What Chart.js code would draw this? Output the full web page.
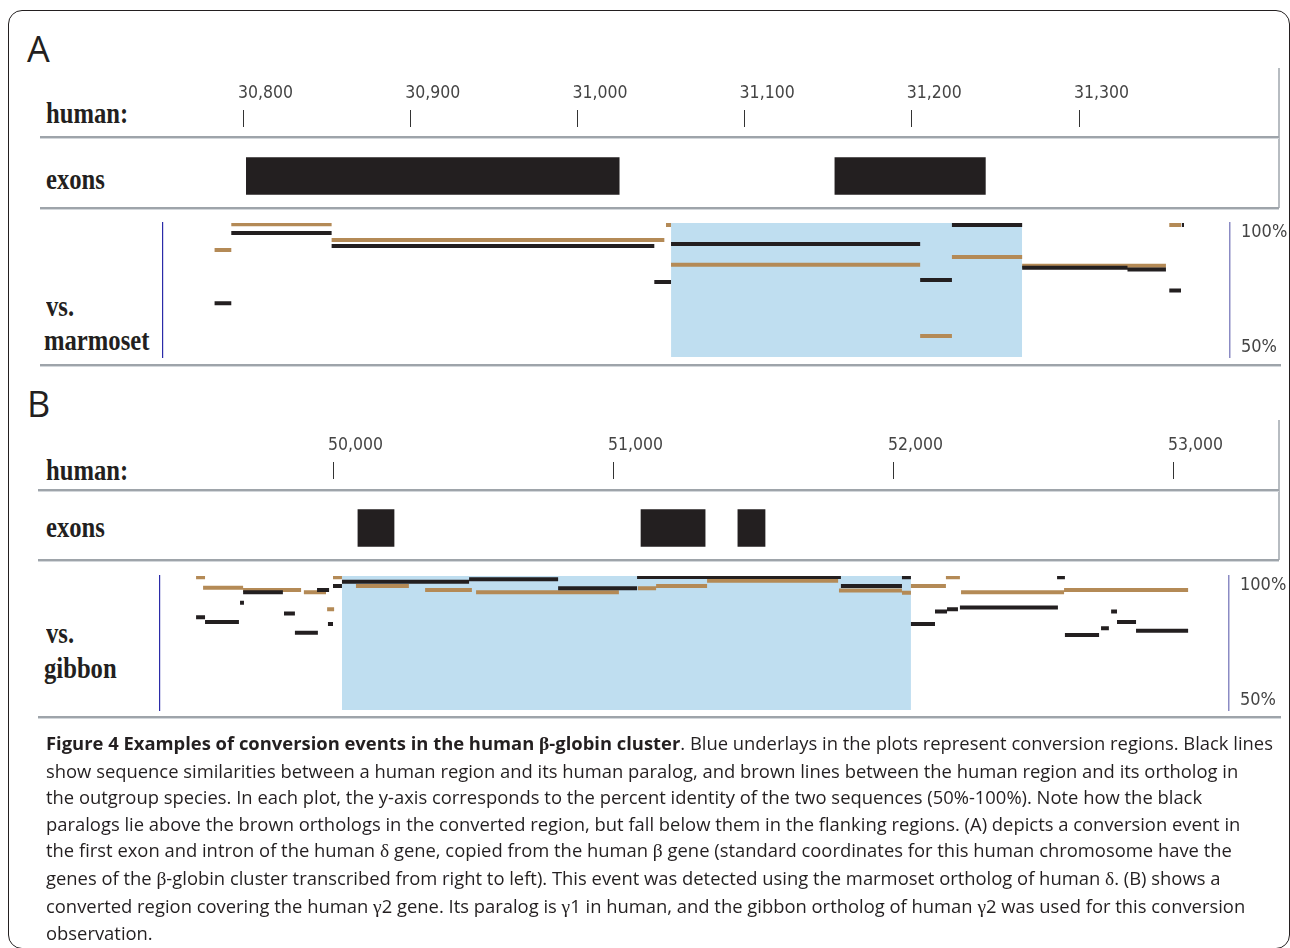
<!DOCTYPE html>
<html>
<head>
<meta charset="utf-8">
<script src="https://cdn.jsdelivr.net/npm/chart.js@4.4.1/dist/chart.umd.min.js"></script>
<style>
  body { margin: 0; width: 1290px; height: 948px; background: #fff; position: relative; overflow: hidden; }
  .frame { position: absolute; left: 8px; top: 10px; width: 1282px; height: 939px; border: 1.5px solid #231f20; border-radius: 14px; box-sizing: border-box; }
  .panel { position: absolute; left: 27px; font: 36px 'Open Sans', sans-serif; line-height: 36px; color: #231f20; }
  .lbl { position: absolute; left: 46px; font: bold 29px 'Liberation Serif', serif; line-height: 29px; color: #231f20; transform: scaleX(0.85); transform-origin: left top; white-space: nowrap; }
  .sep { position: absolute; height: 1px; background: #d3d7db; border-top: 2px solid #9ea4aa; }
  .edge { position: absolute; width: 2px; background: #b7bcc1; }
  canvas { position: absolute; }
  .caption { position: absolute; left: 46px; top: 730px; font: 18.4px 'Open Sans', sans-serif; line-height: 26.6px; color: #231f20; white-space: nowrap; }
  .gk { font-family: 'Liberation Serif', serif; font-size: 19.5px; }
</style>
</head>
<body>
<div class="frame"></div>

<div class="panel" style="top:31px">A</div>
<div class="lbl" style="top:99px">human:</div>
<div class="lbl" style="top:165px">exons</div>
<div class="lbl" style="top:292px">vs.</div>
<div class="lbl" style="top:326px;left:44px">marmoset</div>
<div class="edge" style="left:1278px;top:68px;height:140px"></div>

<div class="panel" style="top:386px">B</div>
<div class="lbl" style="top:456px">human:</div>
<div class="lbl" style="top:513px">exons</div>
<div class="lbl" style="top:619px">vs.</div>
<div class="lbl" style="top:654px;left:44px">gibbon</div>
<div class="edge" style="left:1278px;top:420px;height:140px"></div>

<canvas id="rulerA" width="1240" height="148" style="left:40px;top:60px"></canvas>
<canvas id="simA" width="1250" height="182" style="left:40px;top:199px"></canvas>
<canvas id="rulerB" width="1240" height="148" style="left:40px;top:412px"></canvas>
<canvas id="simB" width="1250" height="182" style="left:40px;top:552px"></canvas>

<div class="sep" style="left:40px;top:136px;width:1239px"></div>
<div class="sep" style="left:40px;top:207px;width:1239px"></div>
<div class="sep" style="left:40px;top:364px;width:1241px"></div>
<div class="sep" style="left:38px;top:489px;width:1241px"></div>
<div class="sep" style="left:38px;top:559px;width:1241px"></div>
<div class="sep" style="left:38px;top:716px;width:1243px"></div>

<div class="caption"><b>Figure 4 Examples of conversion events in the human <span class="gk">β</span>-globin cluster</b>. Blue underlays in the plots represent conversion regions. Black lines<br>show sequence similarities between a human region and its human paralog, and brown lines between the human region and its ortholog in<br>the outgroup species. In each plot, the y-axis corresponds to the percent identity of the two sequences (50%-100%). Note how the black<br>paralogs lie above the brown orthologs in the converted region, but fall below them in the flanking regions. (A) depicts a conversion event in<br>the first exon and intron of the human <span class="gk">δ</span> gene, copied from the human <span class="gk">β</span> gene (standard coordinates for this human chromosome have the<br>genes of the <span class="gk">β</span>-globin cluster transcribed from right to left). This event was detected using the marmoset ortholog of human <span class="gk">δ</span>. (B) shows a<br>converted region covering the human <span class="gk">γ</span>2 gene. Its paralog is <span class="gk">γ</span>1 in human, and the gibbon ortholog of human <span class="gk">γ</span>2 was used for this conversion<br>observation.</div>

<script>
// (A) human vs. marmoset: position on human sequence, [start, end, % identity]
const rulerTicksA = [30800, 30900, 31000, 31100, 31200, 31300];
const exonsA = [[30802, 31025], [31154, 31244]];
const conversionA = [31056, 31266];
const paralogA = [
  [30783, 30793, 69.8], [30793, 30853, 96.6], [30853, 31046, 91.6], [31046, 31056, 77.9],
  [31056, 31205, 92.4], [31205, 31224, 78.6], [31224, 31266, 99.6], [31266, 31329, 83.3],
  [31329, 31352, 82.6], [31354, 31361, 74.6], [31361.5, 31362.8, 99.6]
];
const orthologA = [
  [30783, 30793, 90.1], [30793, 30853, 99.9], [30853, 31052, 93.9], [31053, 31056, 99.6],
  [31056, 31205, 84.4], [31205, 31224, 57.3], [31224, 31266, 87.4], [31266, 31352, 84.1],
  [31354, 31361, 99.6]
];

// (B) human vs. gibbon
const rulerTicksB = [50000, 51000, 52000, 53000];
const exonsB = [[50089, 50218], [51100, 51329], [51446, 51543]];
const conversionB = [50032, 52064];
const paralogB = [
  [49511, 49543, 84.6], [49543, 49664, 82.8], [49668, 49682, 90.2], [49679, 49821, 94.2],
  [49825, 49864, 86.1], [49864, 49946, 78.7], [49943, 49986, 95.0], [49982, 50000, 82.1],
  [50000, 50032, 96.6], [50032, 50486, 98.2], [50486, 50804, 99.1], [50804, 51086, 95.7],
  [51086, 51814, 100], [51814, 52032, 96.6], [52032, 52064, 99.9], [52064, 52150, 82.1],
  [52150, 52193, 86.8], [52193, 52232, 87.7], [52239, 52589, 88.4], [52586, 52614, 99.9],
  [52614, 52736, 77.9], [52743, 52771, 80.4], [52779, 52800, 86.8], [52800, 52868, 82.8],
  [52868, 53054, 79.5]
];
const orthologB = [
  [49511, 49543, 99.9], [49536, 49679, 95.9], [49679, 49886, 95.0], [49896, 49975, 94.2],
  [49979, 50004, 87.7], [50000, 50032, 99.9], [50082, 50271, 96.6], [50329, 50496, 95.0],
  [50511, 51021, 94.2], [51089, 51154, 95.7], [51154, 51336, 96.6], [51336, 51804, 98.6],
  [51807, 52032, 94.8], [52032, 52064, 94.0], [52064, 52189, 96.6], [52189, 52239, 99.9],
  [52243, 52611, 94.2], [52611, 53054, 95.0]
];
const pctTicks = [50, 100];

const INK = '#231f20';
const BROWN = '#b48a56';
const BLUE = '#bfdef0';
const TICK_FONT = { family: "'DejaVu Sans Condensed', sans-serif", size: 17.5 };
const PCT_MIN = 49.24, PCT_MAX = 100.38;

// page-pixel calibration of each ruler (tick pixel, its value, pixels per base)
const calA = { px: 243, value: 30800, pxPerUnit: 1.672 };
const calB = { px: 333, value: 50000, pxPerUnit: 0.28 };
function val(cal, px) { return cal.value + (px - cal.px) / cal.pxPerUnit; }

function segs(list) {
  const pts = [];
  list.forEach(([s, e, p]) => { pts.push({x: s, y: p}, {x: e, y: p}, {x: e, y: null}); });
  return pts;
}

const base = {
  responsive: false,
  animation: false,
  events: [],
  plugins: { legend: { display: false }, tooltip: { enabled: false } }
};

function rulerChart(id, cal, ticks, exons) {
  new Chart(id, {
    type: 'bar',
    data: {
      datasets: [{
        data: exons.map(([s, e]) => ({x: [s, e], y: 0})),
        backgroundColor: INK,
        borderWidth: 0,
        barThickness: 37
      }]
    },
    options: {
      ...base,
      indexAxis: 'y',
      layout: { padding: 0 },
      scales: {
        x: {
          type: 'linear', position: 'top',
          min: val(cal, 40), max: val(cal, 1280),
          afterBuildTicks: s => { s.ticks = ticks.map(v => ({value: v})); },
          afterFit: s => { s.height = 67; },
          border: { display: false },
          grid: { drawOnChartArea: false, drawTicks: true, tickLength: 17, tickColor: '#333', tickWidth: 1 },
          ticks: {
            align: 'start', labelOffset: -5, padding: 6, maxRotation: 0, autoSkip: false,
            color: '#444', font: TICK_FONT,
            callback: v => v.toLocaleString('en-US')
          }
        },
        y: { type: 'linear', display: false, offset: false, min: -0.395, max: 0.605 }
      }
    }
  });
}

function simChart(id, cal, leftPx, rightPx, conversion, paralog, ortholog) {
  const line = { borderWidth: 4, borderCapStyle: 'butt', pointRadius: 0, spanGaps: false, fill: false };
  new Chart(id, {
    type: 'line',
    data: {
      datasets: [
        { data: [{x: conversion[0], y: PCT_MAX}, {x: conversion[1], y: PCT_MAX}],
          fill: 'start', backgroundColor: BLUE, borderWidth: 0, pointRadius: 0, order: 3 },
        { ...line, data: segs(ortholog), borderColor: BROWN, order: 2 },
        { ...line, data: segs(paralog), borderColor: INK, order: 1 }
      ]
    },
    options: {
      ...base,
      layout: { padding: { top: 24, bottom: 24, left: 0, right: 0 } },
      scales: {
        x: { type: 'linear', display: false, min: val(cal, 40), max: val(cal, rightPx) },
        y: {
          type: 'linear', position: 'right', min: PCT_MIN, max: PCT_MAX,
          afterFit: s => { s.width = 1290 - rightPx; },
          afterBuildTicks: s => { s.ticks = pctTicks.map(v => ({value: v})); },
          grid: { display: false },
          border: { color: '#8b8bc4', width: 1.5 },
          ticks: {
            padding: 3, color: '#444',
            font: { ...TICK_FONT, size: 18, lineHeight: '16px' },
            callback: v => v === 100 ? ['', '100%'] : ['50%', '']
          }
        },
        yl: {
          axis: 'y', type: 'linear', position: { x: val(cal, leftPx) },
          min: PCT_MIN, max: PCT_MAX,
          grid: { display: false }, ticks: { display: false },
          border: { color: '#2b2ba8', width: 1.2 }
        }
      }
    }
  });
}

rulerChart('rulerA', calA, rulerTicksA, exonsA);
simChart('simA', calA, 163, 1230, conversionA, paralogA, orthologA);
rulerChart('rulerB', calB, rulerTicksB, exonsB);
simChart('simB', calB, 160, 1229, conversionB, paralogB, orthologB);
</script>
</body>
</html>
